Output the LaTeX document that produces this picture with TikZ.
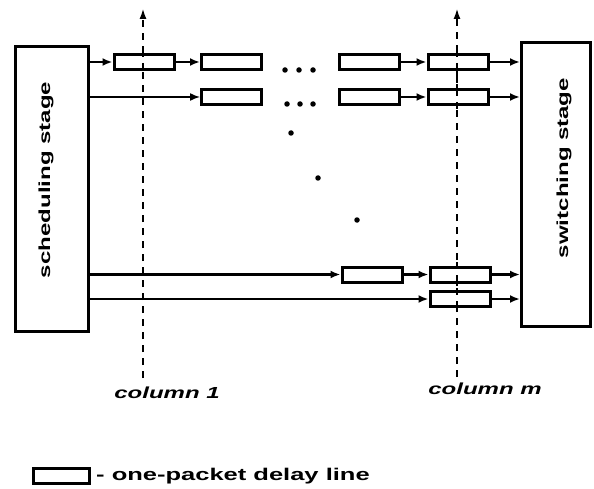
\documentclass[tikz,border=0pt]{standalone}
\usepackage{fontspec}
\setmainfont{Liberation Sans}
\usetikzlibrary{arrows.meta}
\begin{document}
\begin{tikzpicture}[x=1pt,y=-1pt,
  delaybox/.style={draw,line width=3pt,minimum width=60pt,minimum height=15pt,inner sep=0pt},
  stagebox/.style={draw,line width=3pt,inner sep=0pt},
  arr/.style={line width=2.2pt,-{Latex[length=10pt,width=8pt]}},
  thinarr/.style={line width=1.5pt,-{Latex[length=10pt,width=8pt]}},
  colline/.style={line width=2.4pt,dash pattern=on 7pt off 6pt,-{Latex[length=11pt,width=7pt]}},
  dotmark/.style={circle,fill,inner sep=0pt,minimum size=5.5pt},
  lbl/.style={font=\fontsize{16}{19}\selectfont\bfseries\itshape}
]
\useasboundingbox (0,0) rectangle (594,489);
% stages
\node[stagebox,minimum width=73pt,minimum height=285pt] (sched) at (52,189) {};
\node[stagebox,minimum width=69pt,minimum height=284pt] (switch) at (556,184.5) {};
\node[rotate=90,font=\fontsize{16}{19}\selectfont\bfseries] (schedtxt) at (46,180) {\scalebox{1.5}[1]{scheduling stage}};
\node[rotate=90,font=\fontsize{16}{19}\selectfont\bfseries] (switchtxt) at (564,168) {\scalebox{1.5}[1]{switching stage}};
% column lines
\coordinate (c1b) at (143,378);
\coordinate (c1t) at (143,8);
\coordinate (cmb) at (457,377);
\coordinate (cmt) at (457,8);
\draw[colline] (c1b) -- (c1t);
\draw[colline] (cmb) -- (cmt);
% delay boxes
\node[delaybox,fill=white] (b11) at (144,62) {};
\node[delaybox,fill=white] (b12) at (231.5,62) {};
\node[delaybox,fill=white] (b13) at (369,62) {};
\node[delaybox,fill=white] (b14) at (458,62) {};
\node[delaybox,fill=white] (b22) at (231.5,97) {};
\node[delaybox,fill=white] (b23) at (369,97) {};
\node[delaybox,fill=white] (b24) at (458,97) {};
\node[delaybox,fill=white] (b33) at (372,274.5) {};
\node[delaybox,fill=white] (b34) at (460,274.5) {};
\node[delaybox,fill=white] (b44) at (460,299) {};
\draw[colline,-] (143,50) -- (143,75);
\draw[colline,-] (457,50) -- (457,110);
\draw[colline,-] (457,262) -- (457,312);
% connectors
\draw[arr] (sched.east |- b11.west) -- (b11.west);
\draw[arr] (b11) -- (b12);
\draw[arr] (b13) -- (b14);
\draw[arr] (b14) -- (switch.west |- b14.east);
\draw[thinarr] (sched.east |- b22.west) -- (b22.west);
\draw[arr] (b23) -- (b24);
\draw[arr] (b24) -- (switch.west |- b24.east);
\draw[arr] (sched.east |- b33.west) -- (b33.west);
\draw[arr] (b33) -- (b34);
\draw[arr] (b34) -- (switch.west |- b34.east);
\draw[arr] (sched.east |- b44.west) -- (b44.west);
\draw[arr] (b44) -- (switch.west |- b44.east);
% dots
\node[dotmark] (d1) at (285,70) {};
\node[dotmark] (d2) at (299,70) {};
\node[dotmark] (d3) at (313,70) {};
\node[dotmark] (d4) at (287,104) {};
\node[dotmark] (d5) at (300,104) {};
\node[dotmark] (d6) at (313,104) {};
\node[dotmark] (v1) at (291,133) {};
\node[dotmark] (v2) at (318,178) {};
\node[dotmark] (v3) at (357,220) {};
% labels
\node[lbl] (col1) at (167,393) {\scalebox{1.5}[1]{column 1}};
\node[lbl] (colm) at (485,389) {\scalebox{1.5}[1]{column m}};
% legend
\node[delaybox,minimum width=56pt,minimum height=15pt] (legbox) at (61,476) {};
\node[anchor=base west,font=\fontsize{17}{20}\selectfont\bfseries,inner sep=0pt] (legtxt) at (96,480) {\scalebox{1.5}[1]{- one-packet delay line}};
\end{tikzpicture}
\end{document}
